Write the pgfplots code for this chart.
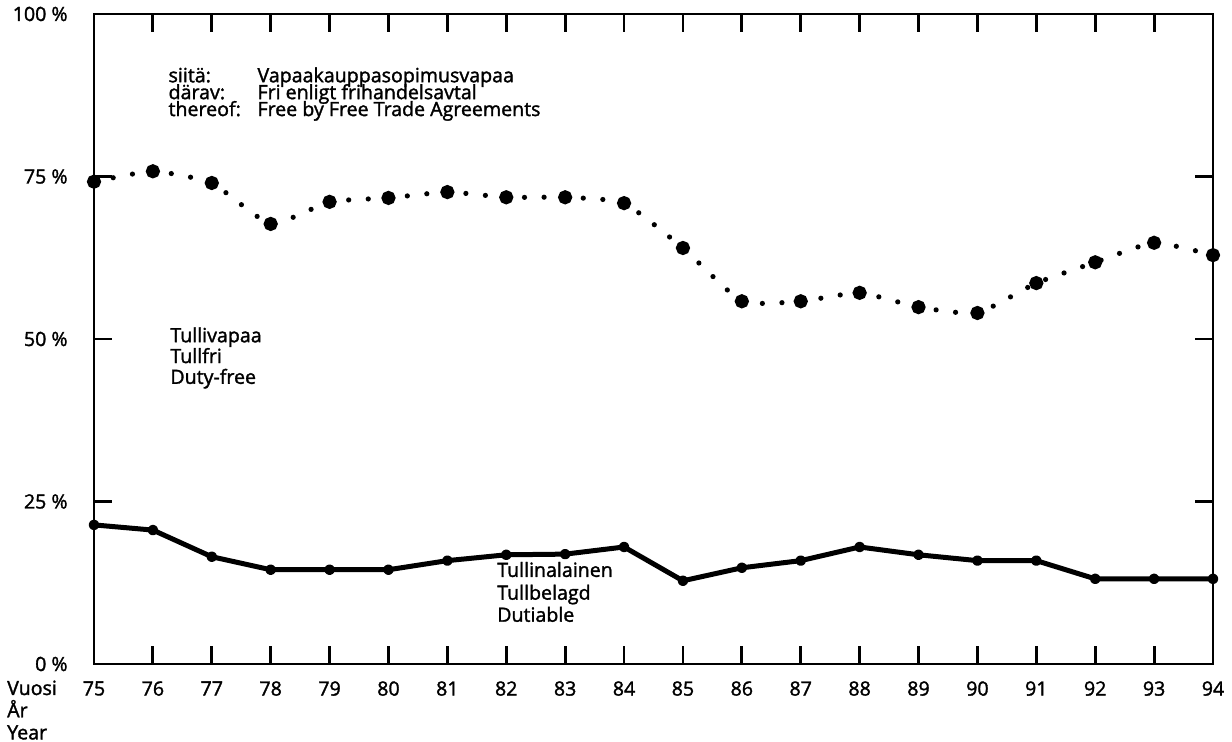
\documentclass[border=0pt]{standalone}
\usepackage{fontspec}
\setmainfont{Open Sans}[FakeBold=1.6]
\usepackage{pgfplots}
\pgfplotsset{compat=1.18}
\newcommand\lf{\fontsize{9.8}{11}\selectfont}
\begin{document}
\begin{tikzpicture}
\begin{axis}[name=ax, scale only axis, width=559.5pt, height=325pt,
 xmin=75, xmax=94, ymin=0, ymax=100,
 xtick={75,...,94}, ytick={0,25,50,75,100},
 yticklabels={0 \%,25 \%,50 \%,75 \%,100 \%},
 tick align=inside, xtick pos=both, ytick pos=both,
 major tick length=9pt,
 every tick/.style={black, line width=1.4pt},
 axis line style={line width=1.3pt},
 ticklabel style={font=\lf},
 yticklabel style={anchor=east, inner sep=0pt, xshift=-13pt},
 xticklabel style={anchor=north, inner sep=0pt, yshift=-8.5pt},
 /pgf/number format/assume math mode=true,
 clip=false,
]
\addplot[black, line width=2.6pt, line cap=round, dash pattern=on 0pt off 9.8pt, smooth, tension=0.3,
  mark=*, mark size=2.2pt, mark options={solid}] coordinates {
(75,74.2)(76,75.8)(77,74.0)(78,67.7)(79,71.1)(80,71.7)(81,72.6)(82,71.8)(83,71.8)(84,70.9)
(85,64.0)(86,55.8)(87,55.8)(88,57.1)(89,54.9)(90,54.0)(91,58.6)(92,61.8)(93,64.8)(94,62.9)};
\addplot[black, line width=2.5pt, line join=round, mark=*, mark size=1.4pt] coordinates {
(75,21.4)(76,20.6)(77,16.5)(78,14.5)(79,14.5)(80,14.5)(81,15.9)(82,16.8)(83,16.9)(84,18.0)
(85,12.8)(86,14.8)(87,15.9)(88,18.0)(89,16.8)(90,15.9)(91,15.9)(92,13.1)(93,13.1)(94,13.1)};
% annotations
\node[anchor=base west, inner sep=0pt, font=\lf] at (axis cs:76.26,89.5) {siitä:};
\node[anchor=base west, inner sep=0pt, font=\lf] at (axis cs:76.26,86.9) {därav:};
\node[anchor=base west, inner sep=0pt, font=\lf] at (axis cs:76.26,84.3) {thereof:};
\node[anchor=base west, inner sep=0pt, font=\lf] at (axis cs:77.77,89.5) {Vapaakauppasopimusvapaa};
\node[anchor=base west, inner sep=0pt, font=\lf] at (axis cs:77.77,86.9) {Fri enligt frihandelsavtal};
\node[anchor=base west, inner sep=0pt, font=\lf] at (axis cs:77.77,84.3) {Free by Free Trade Agreements};
\node[anchor=base west, inner sep=0pt, font=\lf] at (axis cs:76.29,49.5) {Tullivapaa};
\node[anchor=base west, inner sep=0pt, font=\lf] at (axis cs:76.29,46.3) {Tullfri};
\node[anchor=base west, inner sep=0pt, font=\lf] at (axis cs:76.29,43.1) {Duty-free};
\node[anchor=base west, inner sep=0pt, font=\lf] at (axis cs:81.84,13.4) {Tullinalainen};
\node[anchor=base west, inner sep=0pt, font=\lf] at (axis cs:81.84,9.9) {Tullbelagd};
\node[anchor=base west, inner sep=0pt, font=\lf] at (axis cs:81.84,6.5) {Dutiable};
\node[anchor=base west, inner sep=0pt, font=\lf] at (axis cs:73.52,-4.77) {Vuosi};
\node[anchor=base west, inner sep=0pt, font=\lf] at (axis cs:73.52,-8.2) {År};
\node[anchor=base west, inner sep=0pt, font=\lf] at (axis cs:73.52,-11.6) {Year};
\end{axis}
\pgfresetboundingbox
\path[use as bounding box] ([shift={(-47pt,-39pt)}]ax.south west) rectangle ([shift={(9.5pt,7pt)}]ax.north east);
\end{tikzpicture}
\end{document}
